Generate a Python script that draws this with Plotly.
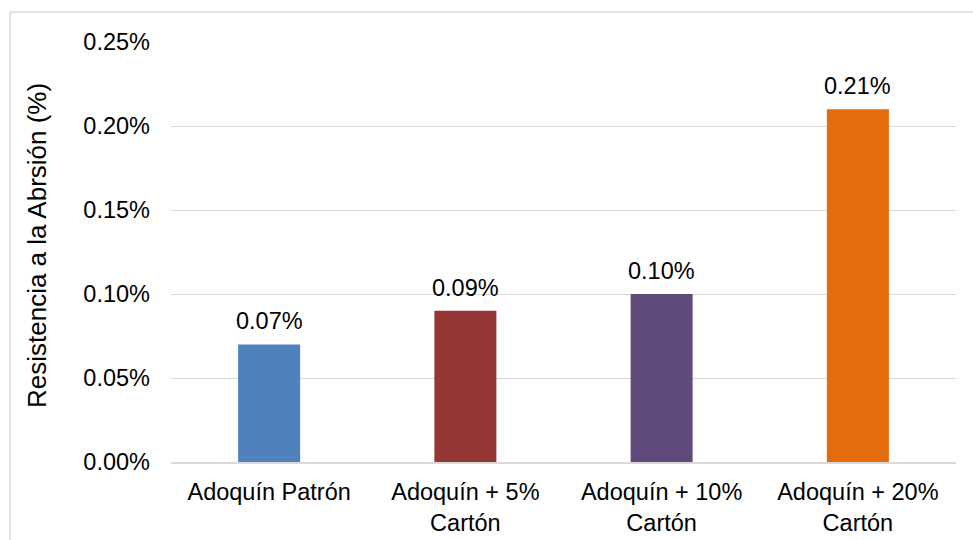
import plotly.graph_objects as go

# Abrasion resistance per paver mix
categories = ["Adoquín Patrón", "Adoquín + 5%<br>Cartón", "Adoquín + 10%<br>Cartón", "Adoquín + 20%<br>Cartón"]
values = [0.0007, 0.0009, 0.0010, 0.0021]
colors = ["#4F81BD", "#953735", "#604A7B", "#E46C0A"]
y_ticks = [0, 0.0005, 0.0010, 0.0015, 0.0020, 0.0025]

W, H = 973, 540
L, R, T, B = 171, 17, 42, 78
FONT = "Liberation Sans, Arial, sans-serif"
FS = 23.5
TITLE_FS = 26

fig = go.Figure(go.Bar(
    x=categories,
    y=values,
    marker=dict(color=colors, line=dict(width=0)),
    hoverinfo="skip",
))

pw = W - L - R
ph = H - T - B

# value labels sit a little above each bar
value_labels = [
    dict(x=c, y=v, xref="x", yref="y", text=f"{v * 100:.2f}%",
         showarrow=False, xanchor="center", yanchor="bottom", yshift=8,
         font=dict(family=FONT, size=FS, color="#000000"))
    for c, v in zip(categories, values)
]

fig.update_layout(
    width=W, height=H,
    margin=dict(l=L, r=R, t=T, b=B),
    paper_bgcolor="white",
    plot_bgcolor="white",
    bargap=0.684,
    showlegend=False,
    font=dict(family=FONT, size=FS, color="#000000"),
    xaxis=dict(
        showline=True, linecolor="#D9D9D9", linewidth=1.5,
        showgrid=False, ticks="", tickfont=dict(size=FS),
        ticklabelstandoff=8,
        automargin=False,
        fixedrange=True,
    ),
    yaxis=dict(
        range=[0, 0.0025],
        tickvals=y_ticks,
        tickformat=".2%",
        showgrid=True, gridcolor="#D9D9D9", gridwidth=1,
        zeroline=False, showline=False, ticks="",
        ticklabelstandoff=20,
        tickfont=dict(size=FS),
        automargin=False,
        fixedrange=True,
    ),
    annotations=value_labels + [dict(
        text="Resistencia a la Abrsión (%)",
        textangle=-90,
        xref="paper", yref="paper",
        x=(37 - L) / pw, y=(462 - 246) / ph,
        xanchor="center", yanchor="middle",
        showarrow=False,
        font=dict(family=FONT, size=TITLE_FS, color="#000000"),
    )],
    shapes=[
        # chart frame (left and top edges)
        dict(type="line", xref="paper", yref="paper",
             x0=(10 - L) / pw, x1=(10 - L) / pw,
             y0=1 + (T - 12) / ph, y1=-(B + 5) / ph,
             line=dict(color="#D9D9D9", width=1.5)),
        dict(type="line", xref="paper", yref="paper",
             x0=(10 - L) / pw, x1=(W + 5 - L) / pw,
             y0=1 + (T - 12) / ph, y1=1 + (T - 12) / ph,
             line=dict(color="#D9D9D9", width=1.5)),
    ],
)

fig.write_html("out.html")
